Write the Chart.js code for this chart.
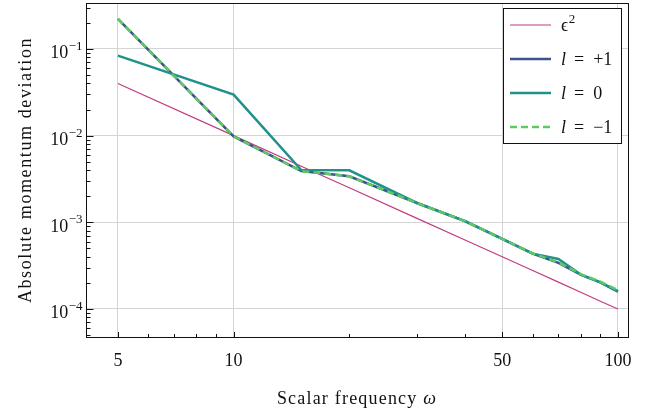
<!DOCTYPE html>
<html>
<head>
<meta charset="utf-8">
<script src="https://cdn.jsdelivr.net/npm/chart.js@4.4.1/dist/chart.umd.min.js"></script>
<style>
  html, body { margin: 0; padding: 0; background: #fff; }
  #wrap { width: 665px; height: 418px; position: relative; }
</style>
</head>
<body>
<div id="wrap"><canvas id="chart" width="665" height="418"></canvas></div>
<script>
// Data
const omega   = [5, 10, 15, 20, 30, 40, 50, 60, 70, 80, 90, 100];
const eps2    = [0.04, 0.01, 0.00444, 0.0025, 0.00111, 0.000625, 0.0004, 0.000278, 0.000204, 0.000156, 0.000123, 0.0001];
const lPlus1  = [0.222, 0.0098, 0.0039, 0.0034, 0.00167, 0.00103, 0.000644, 0.000435, 0.00034, 0.000249, 0.000203, 0.00016];
const lZero   = [0.0837, 0.0297, 0.0040, 0.00398, 0.00167, 0.00103, 0.000644, 0.000435, 0.000378, 0.000249, 0.000203, 0.000158];
const lMinus1 = [0.222, 0.0098, 0.0039, 0.0034, 0.00167, 0.00103, 0.000644, 0.000438, 0.000345, 0.000252, 0.000206, 0.000165];

const seriesLabels = ['ϵ²', 'l = +1', 'l = 0', 'l = −1'];
const xMajor = [5, 10, 50, 100];
const xMinor = [6, 7, 8, 9, 20, 30, 40, 60, 70, 80, 90];
const yMajorExp = [-4, -3, -2, -1];

const xTitle = 'Scalar frequency ';
const xTitleSym = 'ω';
const yTitle = 'Absolute momentum deviation';

const FONT = '"Liberation Serif", "DejaVu Serif", serif';

const pts = (ys) => ys.map((y, i) => ({ x: omega[i], y }));

/* ---------- axes decorations, drawn on top ---------- */
const frame = {
  id: 'frame',
  afterDraw(chart) {
    const { ctx, chartArea: a, scales: { x, y } } = chart;
    ctx.save();
    ctx.strokeStyle = '#111';
    ctx.lineWidth = 1;
    ctx.strokeRect(Math.round(a.left) + 0.5, Math.round(a.top) + 0.5,
      Math.round(a.right - a.left), Math.round(a.bottom - a.top));

    const tick = (x1, y1, x2, y2) => {
      ctx.beginPath(); ctx.moveTo(x1, y1); ctx.lineTo(x2, y2); ctx.stroke();
    };
    const bottom = Math.round(a.bottom) + 0.5;
    const left = Math.round(a.left) + 0.5;

    // x ticks (inward)
    xMajor.forEach(v => { const px = Math.round(x.getPixelForValue(v)) + 0.5; tick(px, bottom, px, bottom - 5.5); });
    xMinor.forEach(v => { const px = Math.round(x.getPixelForValue(v)) + 0.5; tick(px, bottom, px, bottom - 3.5); });

    // y ticks (inward)
    for (let e = -5; e <= -1; e++) {
      for (let m = 1; m <= 9; m++) {
        const v = m * Math.pow(10, e);
        if (v < y.min || v > y.max) continue;
        const py = Math.round(y.getPixelForValue(v)) + 0.5;
        tick(left, py, left + (m === 1 ? 7 : 4), py);
      }
    }

    // x tick labels
    ctx.fillStyle = '#111';
    ctx.font = `18px ${FONT}`;
    ctx.textAlign = 'center';
    ctx.textBaseline = 'alphabetic';
    xMajor.forEach(v => ctx.fillText(String(v), x.getPixelForValue(v), 366));

    // y tick labels 10^e
    ctx.textAlign = 'left';
    yMajorExp.forEach(e => {
      const py = y.getPixelForValue(Math.pow(10, e));
      const sup = '−' + Math.abs(e);
      ctx.font = `18px ${FONT}`;
      const wb = ctx.measureText('10').width;
      ctx.font = `13px ${FONT}`;
      const ws = ctx.measureText(sup).width;
      const x0 = 82 - wb - ws;
      ctx.font = `18px ${FONT}`;
      ctx.fillText('10', x0, py + 9.5);
      ctx.font = `13px ${FONT}`;
      ctx.fillText(sup, x0 + wb + 0.5, py + 1);
    });

    // axis titles
    ctx.letterSpacing = '1.2px';
    ctx.font = `18px ${FONT}`;
    const w1 = ctx.measureText(xTitle).width;
    ctx.font = `italic 18px ${FONT}`;
    const w2 = ctx.measureText(xTitleSym).width;
    const cx = (a.left + a.right) / 2;
    ctx.font = `18px ${FONT}`;
    ctx.fillText(xTitle, cx - (w1 + w2) / 2, 404);
    ctx.font = `italic 18px ${FONT}`;
    ctx.fillText(xTitleSym, cx - (w1 + w2) / 2 + w1, 404);

    ctx.save();
    ctx.letterSpacing = '1.6px';
    ctx.translate(31, (a.top + a.bottom) / 2);
    ctx.rotate(-Math.PI / 2);
    ctx.font = `18px ${FONT}`;
    ctx.textAlign = 'center';
    ctx.fillText(yTitle, 0, 0);
    ctx.restore();
    ctx.letterSpacing = '0px';

    // legend
    const bx = 503, by = 8, bw = 118, bh = 135;
    ctx.fillStyle = '#fff';
    ctx.fillRect(bx, by, bw, bh);
    ctx.strokeStyle = '#111';
    ctx.strokeRect(bx + 0.5, by + 0.5, bw, bh);
    // legend rows follow the stacking order of the datasets as listed
    chart.data.datasets.forEach((ds, i) => {
      const ry = 25 + i * 34;
      ctx.strokeStyle = ds.borderColor;
      ctx.lineWidth = ds.borderWidth;
      ctx.setLineDash(ds.borderDash || []);
      tick(510, ry, 551, ry);
      ctx.setLineDash([]);
      ctx.fillStyle = '#111';
      ctx.textAlign = 'left';
      const label = ds.label;
      if (label.startsWith('l')) {
        ctx.font = `italic 18px ${FONT}`;
        ctx.fillText('l', 561, ry + 6);
        const wl = ctx.measureText('l').width;
        ctx.font = `18px ${FONT}`;
        const rest = label.slice(1).replace(/ /g, '\u2002');
        ctx.fillText(rest, 561 + wl - 1, ry + 6);
      } else if (label.endsWith('²')) {
        ctx.font = `18px ${FONT}`;
        const base = label.slice(0, -1);
        ctx.fillText(base, 561, ry + 6);
        const wb = ctx.measureText(base).width;
        ctx.font = `13px ${FONT}`;
        ctx.fillText('2', 561 + wb + 0.5, ry - 2);
      } else {
        ctx.font = `18px ${FONT}`;
        ctx.fillText(label, 561, ry + 6);
      }
    });
    ctx.restore();
  }
};

new Chart(document.getElementById('chart'), {
  type: 'line',
  data: {
    datasets: [
      { label: seriesLabels[0], data: pts(eps2),    borderColor: '#c23b80', borderWidth: 1.2, order: 4 },
      { label: seriesLabels[1], data: pts(lPlus1),  borderColor: '#3b528b', borderWidth: 2.5, order: 3 },
      { label: seriesLabels[2], data: pts(lZero),   borderColor: '#21918c', borderWidth: 2.5, order: 2 },
      { label: seriesLabels[3], data: pts(lMinus1), borderColor: '#5ec962', borderWidth: 2.5, borderDash: [7, 4], order: 1 }
    ]
  },
  options: {
    responsive: false,
    animation: false,
    events: [],
    layout: { padding: { top: 3, right: 37, left: 0, bottom: 0 } },
    elements: { point: { radius: 0 }, line: { tension: 0, fill: false } },
    plugins: { legend: { display: false }, tooltip: { enabled: false } },
    scales: {
      x: {
        type: 'logarithmic',
        min: 4.13, max: 106.2,
        afterBuildTicks: s => { s.ticks = xMajor.map(v => ({ value: v })); },
        afterFit: s => { s.height = 81; },
        ticks: { display: false },
        grid: { color: '#d4d4d4', lineWidth: 1, drawTicks: false },
        border: { display: false }
      },
      y: {
        type: 'logarithmic',
        min: 4.75e-5, max: 0.339,
        afterBuildTicks: s => { s.ticks = yMajorExp.map(e => ({ value: Math.pow(10, e) })); },
        afterFit: s => { s.width = 86; },
        ticks: { display: false },
        grid: { color: '#d4d4d4', lineWidth: 1, drawTicks: false },
        border: { display: false }
      }
    }
  },
  plugins: [frame]
});
</script>
</body>
</html>
